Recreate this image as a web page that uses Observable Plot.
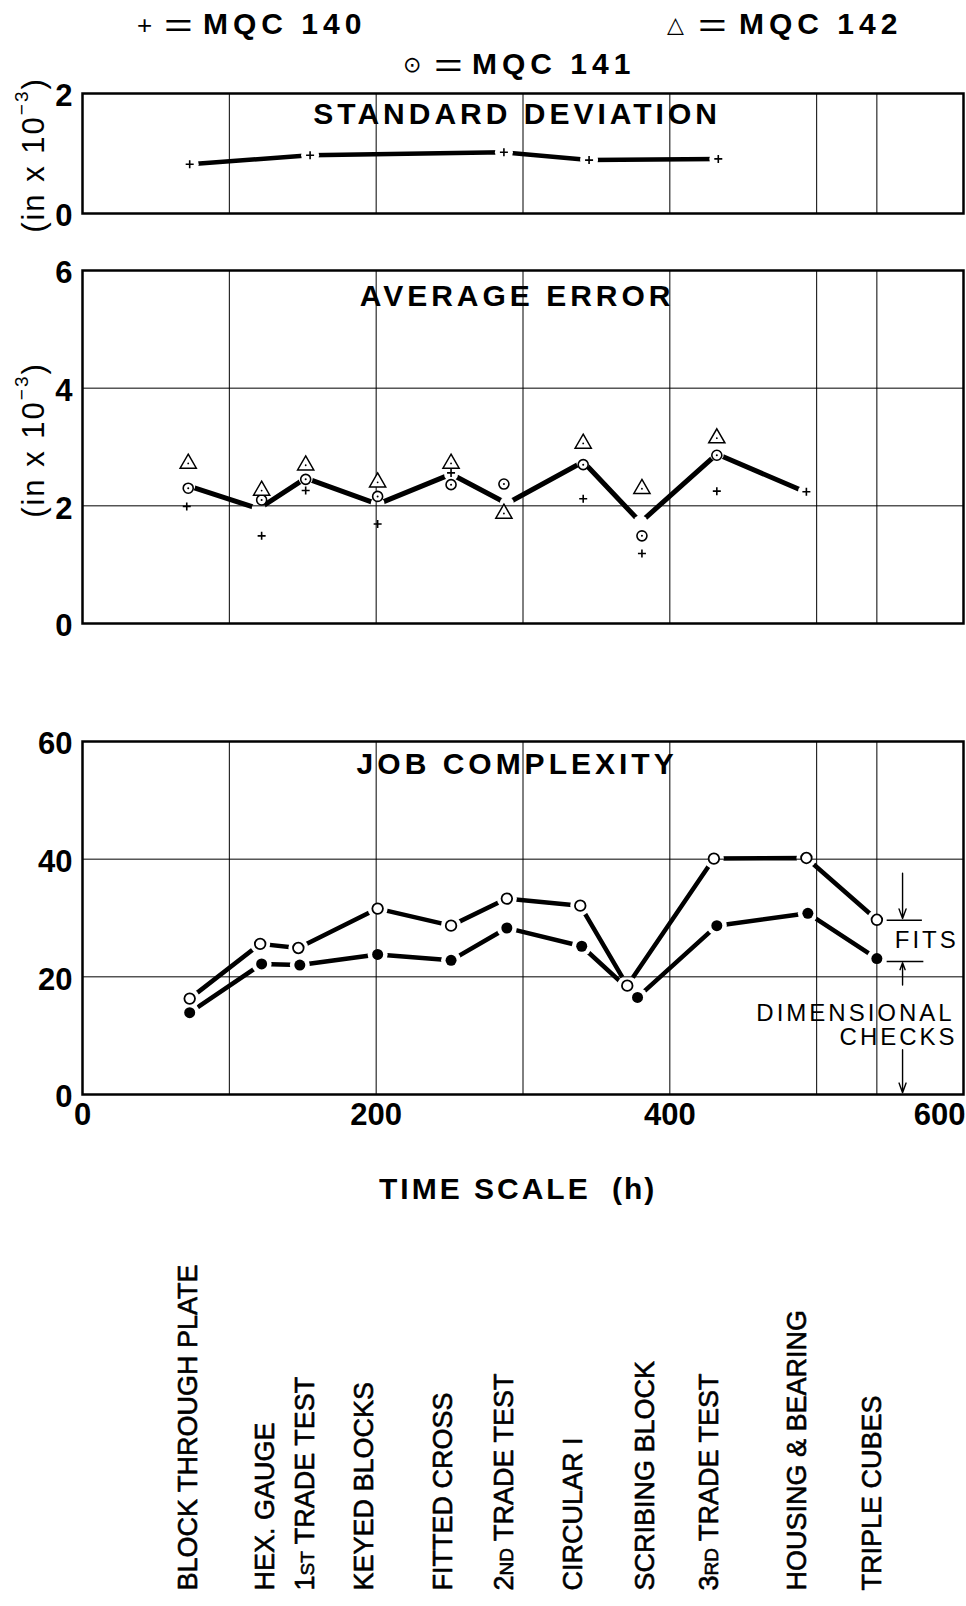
<!DOCTYPE html>
<html><head><meta charset="utf-8">
<script src="https://cdn.jsdelivr.net/npm/d3@7"></script>
<script src="https://cdn.jsdelivr.net/npm/@observablehq/plot@0.6"></script>
<style>
body{margin:0;background:#fff;}
#wrap{position:relative;width:966px;height:1606px;overflow:hidden;font-family:"Liberation Sans",Arial,sans-serif;color:#000;background:#fff;}
#wrap svg{position:absolute;left:0;background:transparent;}
.abs{position:absolute;white-space:nowrap;line-height:40px;height:40px;}
</style></head><body><div id="wrap"></div>
<script>
// ---------------- data ----------------
const sdTime = [73, 155, 287, 345, 433];
const sdMQC140 = [0.82, 0.97, 1.02, 0.89, 0.91];

const aeTime140 = [71, 122, 152, 201, 251, 341, 381, 432, 493];
const aeMQC140 = [1.99, 1.49, 2.26, 1.69, 2.56, 2.12, 1.19, 2.25, 2.24];
const aeTime141 = [72, 122, 152, 201, 251, 287, 341, 381, 432];
const aeMQC141 = [2.30, 2.10, 2.45, 2.16, 2.36, 2.37, 2.70, 1.49, 2.86];
const aeTime142 = [72, 122, 152, 201, 251, 287, 341, 381, 432];
const aeMQC142 = [2.72, 2.26, 2.69, 2.40, 2.72, 1.87, 3.06, 2.29, 3.15];
const aeTrendTime = [72, 120, 152, 201, 251, 289, 341, 380, 432, 492];
const aeTrend = [2.34, 1.95, 2.47, 2.03, 2.54, 2.04, 2.75, 1.72, 2.88, 2.24];

const jcTimeFits = [73, 121, 147, 201, 251, 289, 339, 371, 430, 493, 541];
const jcFits = [16.3, 25.6, 24.9, 31.6, 28.7, 33.3, 32.1, 18.5, 40.1, 40.2, 29.7];
const jcTimeDim = [73, 122, 148, 201, 251, 289, 340, 378, 432, 494, 541];
const jcDim = [13.9, 22.2, 22.0, 23.8, 22.8, 28.3, 25.2, 16.5, 28.7, 30.8, 23.1];

const taskNames = ["BLOCK THROUGH PLATE", "HEX. GAUGE", "1ST TRADE TEST", "KEYED BLOCKS", "FITTED CROSS",
  "2ND TRADE TEST", "CIRCULAR I", "SCRIBING BLOCK", "3RD TRADE TEST", "HOUSING & BEARING", "TRIPLE CUBES"];
const taskTimes = [72, 124.5, 152, 192, 246, 287, 334, 383.5, 427, 487, 538];

const panelTitles = ["STANDARD DEVIATION", "AVERAGE ERROR", "JOB COMPLEXITY"];
const titleTime = 296;
const xTicks = [0, 200, 400];
const xLastTick = [600];
const xGrid = [100, 200, 300, 400, 500, 541];
const sdTicks = [0, 2], aeTicks = [0, 2, 4, 6], jcTicks = [0, 20, 40, 60];
const legendItems = ["MQC 140", "MQC 141", "MQC 142"];

// annotation (job complexity panel, data units)
const annotText = [
  {t: 575, v: 26.2, label: "FITS", anchor: "middle"},
  {t: 594, v: 13.8, label: "DIMENSIONAL", anchor: "end"},
  {t: 596, v: 9.7, label: "CHECKS", anchor: "end"}
];
const annotBounds = [{t1: 548, t2: 572, v: 29.6}, {t1: 548, t2: 573, v: 22.6}];
const annotArrows = [{t: 558.5, v1: 37.6, v2: 29.9}, {t: 558.5, v1: 18.6, v2: 22.4}, {t: 558.5, v1: 7.6, v2: 0.3}];

// ---------------- helpers ----------------
const zip = (ts, vs) => ts.map((t, i) => ({t, v: vs[i]}));
const FONT = '"Liberation Sans", Arial, Helvetica, sans-serif';
const thinPlus = {draw(ctx, size) { const r = Math.sqrt(size / Math.PI); ctx.moveTo(-r, 0); ctx.lineTo(r, 0); ctx.moveTo(0, -r); ctx.lineTo(0, r); }};
const wrap = document.getElementById("wrap");

function panel({top, marginTop, innerH, marginBottom, yDomain, yTicks, marks, title, titleDy, xAxis}) {
  const svg = Plot.plot({
    width: 966, height: marginTop + innerH + marginBottom,
    marginLeft: 82, marginRight: 3, marginTop, marginBottom,
    x: {domain: [0, 600], axis: null},
    y: {domain: yDomain, axis: null},
    style: {fontFamily: FONT, fontSize: "31px", fontWeight: "bold", background: "transparent", color: "black", overflow: "visible"},
    marks: [
      ...marks.under,
      Plot.gridX(xGrid, {stroke: "black", strokeOpacity: 1, strokeWidth: 1}),
      Plot.gridY(yTicks, {stroke: "black", strokeOpacity: 1, strokeWidth: 1}),
      Plot.frame({stroke: "black", strokeWidth: 2.5}),
      Plot.axisY(yTicks, {tickSize: 0, tickPadding: 10, dy: 3, fontSize: 31, label: null, tickFormat: d => String(d)}),
      ...(xAxis ? [
        Plot.axisX(xTicks, {tickSize: 0, tickPadding: 8, fontSize: 31, label: null, tickFormat: d => String(d)}),
        Plot.axisX(xLastTick, {tickSize: 0, tickPadding: 8, fontSize: 31, textAnchor: "end", dx: 2, label: null, tickFormat: d => String(d)})
      ] : []),
      Plot.text([{t: titleTime, label: title}], {x: "t", text: "label", frameAnchor: "top", dy: titleDy, fontSize: 30, fontWeight: "bold", lineAnchor: "middle"}),
      ...marks.over
    ]
  });
  svg.style.top = top + "px";
  d3.select(svg).selectAll("text").filter(function() { return panelTitles.includes(this.textContent); })
    .attr("letter-spacing", "4px");
  wrap.appendChild(svg);
  return svg;
}

// ---------------- panel 1: standard deviation ----------------
const sd = zip(sdTime, sdMQC140);
panel({
  top: 75, marginTop: 18, innerH: 120, marginBottom: 12, yDomain: [0, 2], yTicks: sdTicks,
  title: panelTitles[0], titleDy: 21,
  marks: {
    under: [
      Plot.line(sd, {x: "t", y: "v", stroke: "black", strokeWidth: 4.5}),
      Plot.dot(sd, {x: "t", y: "v", r: 9, fill: "white"})
    ],
    over: [Plot.dot(sd, {x: "t", y: "v", symbol: thinPlus, r: 4, stroke: "black", fill: "none", strokeWidth: 1.6})]
  }
});

// ---------------- panel 2: average error ----------------
const ae140 = zip(aeTime140, aeMQC140), ae141 = zip(aeTime141, aeMQC141), ae142 = zip(aeTime142, aeMQC142);
const aeT = zip(aeTrendTime, aeTrend);
panel({
  top: 250, marginTop: 20, innerH: 353, marginBottom: 12, yDomain: [0, 6], yTicks: aeTicks,
  title: panelTitles[1], titleDy: 26,
  marks: {
    under: [
      Plot.line(aeT, {x: "t", y: "v", stroke: "black", strokeWidth: 5}),
      Plot.dot(aeT, {x: "t", y: "v", r: 7, fill: "white"})
    ],
    over: [
      Plot.dot(ae140, {x: "t", y: "v", symbol: thinPlus, r: 4, stroke: "black", fill: "none", strokeWidth: 1.6}),
      Plot.dot(ae141, {x: "t", y: "v", r: 5, stroke: "black", fill: "white", strokeWidth: 1.6}),
      Plot.dot(ae141, {x: "t", y: "v", r: 1, fill: "black"}),
      Plot.dot(ae142, {x: "t", y: "v", symbol: "triangle", r: 6, stroke: "black", fill: "white", strokeWidth: 1.5}),
      Plot.dot(ae142, {x: "t", y: "v", r: 0.9, fill: "black"})
    ]
  }
});

// ---------------- panel 3: job complexity ----------------
const fits = zip(jcTimeFits, jcFits), dims = zip(jcTimeDim, jcDim);
panel({
  top: 720, marginTop: 21, innerH: 353, marginBottom: 45, yDomain: [0, 60], yTicks: jcTicks,
  title: panelTitles[2], titleDy: 23, xAxis: true,
  marks: {
    under: [
      Plot.line(fits, {x: "t", y: "v", stroke: "black", strokeWidth: 4.5}),
      Plot.line(dims, {x: "t", y: "v", stroke: "black", strokeWidth: 4.5}),
      Plot.dot(fits, {x: "t", y: "v", r: 10, fill: "white"}),
      Plot.dot(dims, {x: "t", y: "v", r: 10, fill: "white"})
    ],
    over: [
      Plot.dot(fits, {x: "t", y: "v", r: 5.3, stroke: "black", fill: "white", strokeWidth: 1.8}),
      Plot.dot(dims, {x: "t", y: "v", r: 5.5, fill: "black"}),
      Plot.ruleY(annotBounds, {y: "v", x1: "t1", x2: "t2", stroke: "black", strokeWidth: 1.5}),
      Plot.arrow(annotArrows, {x1: "t", y1: "v1", x2: "t", y2: "v2", stroke: "black", strokeWidth: 1.4, headLength: 11, headAngle: 40}),
      Plot.text(annotText.filter(d => d.anchor === "middle"), {x: "t", y: "v", text: "label", fontSize: 24, fontWeight: "normal", textAnchor: "middle"}),
      Plot.text(annotText.filter(d => d.anchor === "end"), {x: "t", y: "v", text: "label", fontSize: 24, fontWeight: "normal", textAnchor: "end"})
    ]
  }
});
d3.selectAll("#wrap svg text").filter(function() { return ["FITS", "DIMENSIONAL", "CHECKS"].includes(this.textContent); })
  .attr("letter-spacing", "3px");

// ---------------- task labels ----------------
const tasks = taskNames.map((name, i) => ({name, t: taskTimes[i]}));
const lab = Plot.plot({
  width: 966, height: 366, marginLeft: 82, marginRight: 3, marginTop: 0, marginBottom: 16,
  x: {domain: [0, 600], axis: null}, y: {axis: null},
  style: {fontFamily: FONT, fontSize: "27px", background: "transparent", color: "black", overflow: "visible"},
  marks: [Plot.text(tasks, {x: "t", text: "name", frameAnchor: "bottom", rotate: -90, textAnchor: "start", lineAnchor: "middle", fontSize: 27, fill: "black", stroke: "black", strokeWidth: 0.6})]
});
lab.style.top = "1240px";
d3.select(lab).selectAll("text").each(function() {
  const m = /^(\d)(ST|ND|RD)( .*)$/.exec(this.textContent);
  if (!m) return;
  const el = d3.select(this);
  el.text(null);
  el.append("tspan").text(m[1]);
  el.append("tspan").attr("font-size", "19px").text(m[2]);
  el.append("tspan").text(m[3]);
});
wrap.appendChild(lab);

// ---------------- HTML texts: legend, axis titles ----------------
function place(html, left, cy, css) {
  const d = document.createElement("div");
  d.className = "abs";
  d.innerHTML = html;
  d.style.left = left + "px";
  d.style.top = (cy - 20) + "px";
  Object.assign(d.style, css || {});
  wrap.appendChild(d);
  return d;
}
const legFont = {fontSize: "30px", fontWeight: "bold", letterSpacing: "5px"};
const eqFont = {fontSize: "34px", fontWeight: "normal", transform: "scaleX(1.45)", transformOrigin: "0 50%"};
const symFont = {fontSize: "22px", fontFamily: '"DejaVu Sans", sans-serif'};
// MQC 140
place("+", 137, 25, {fontSize: "26px", fontWeight: "normal"});
place("=", 164, 25, eqFont);
place(legendItems[0], 203, 24, legFont);
// MQC 141
place("\u2299", 403, 65, symFont);
place("=", 434, 65, eqFont);
place(legendItems[1], 472, 64, legFont);
// MQC 142
place("\u25B3", 667, 25, symFont);
place("=", 698, 25, eqFont);
place(legendItems[2], 739, 24, legFont);

function yLabel(cy) {
  return place("(in x 10<sup style='font-size:19px;position:relative;top:-5px'>&minus;3</sup>)", 27, cy,
    {fontSize: "31px", letterSpacing: "2px", transform: "translate(-50%,0) rotate(-90deg)", transformOrigin: "50% 50%"});
}
yLabel(155);
yLabel(440);

place("TIME SCALE", 379, 1189, {fontSize: "30px", fontWeight: "bold", letterSpacing: "3px"});
place("(h)", 612, 1189, {fontSize: "30px", fontWeight: "bold", letterSpacing: "2px"});
</script></body></html>
